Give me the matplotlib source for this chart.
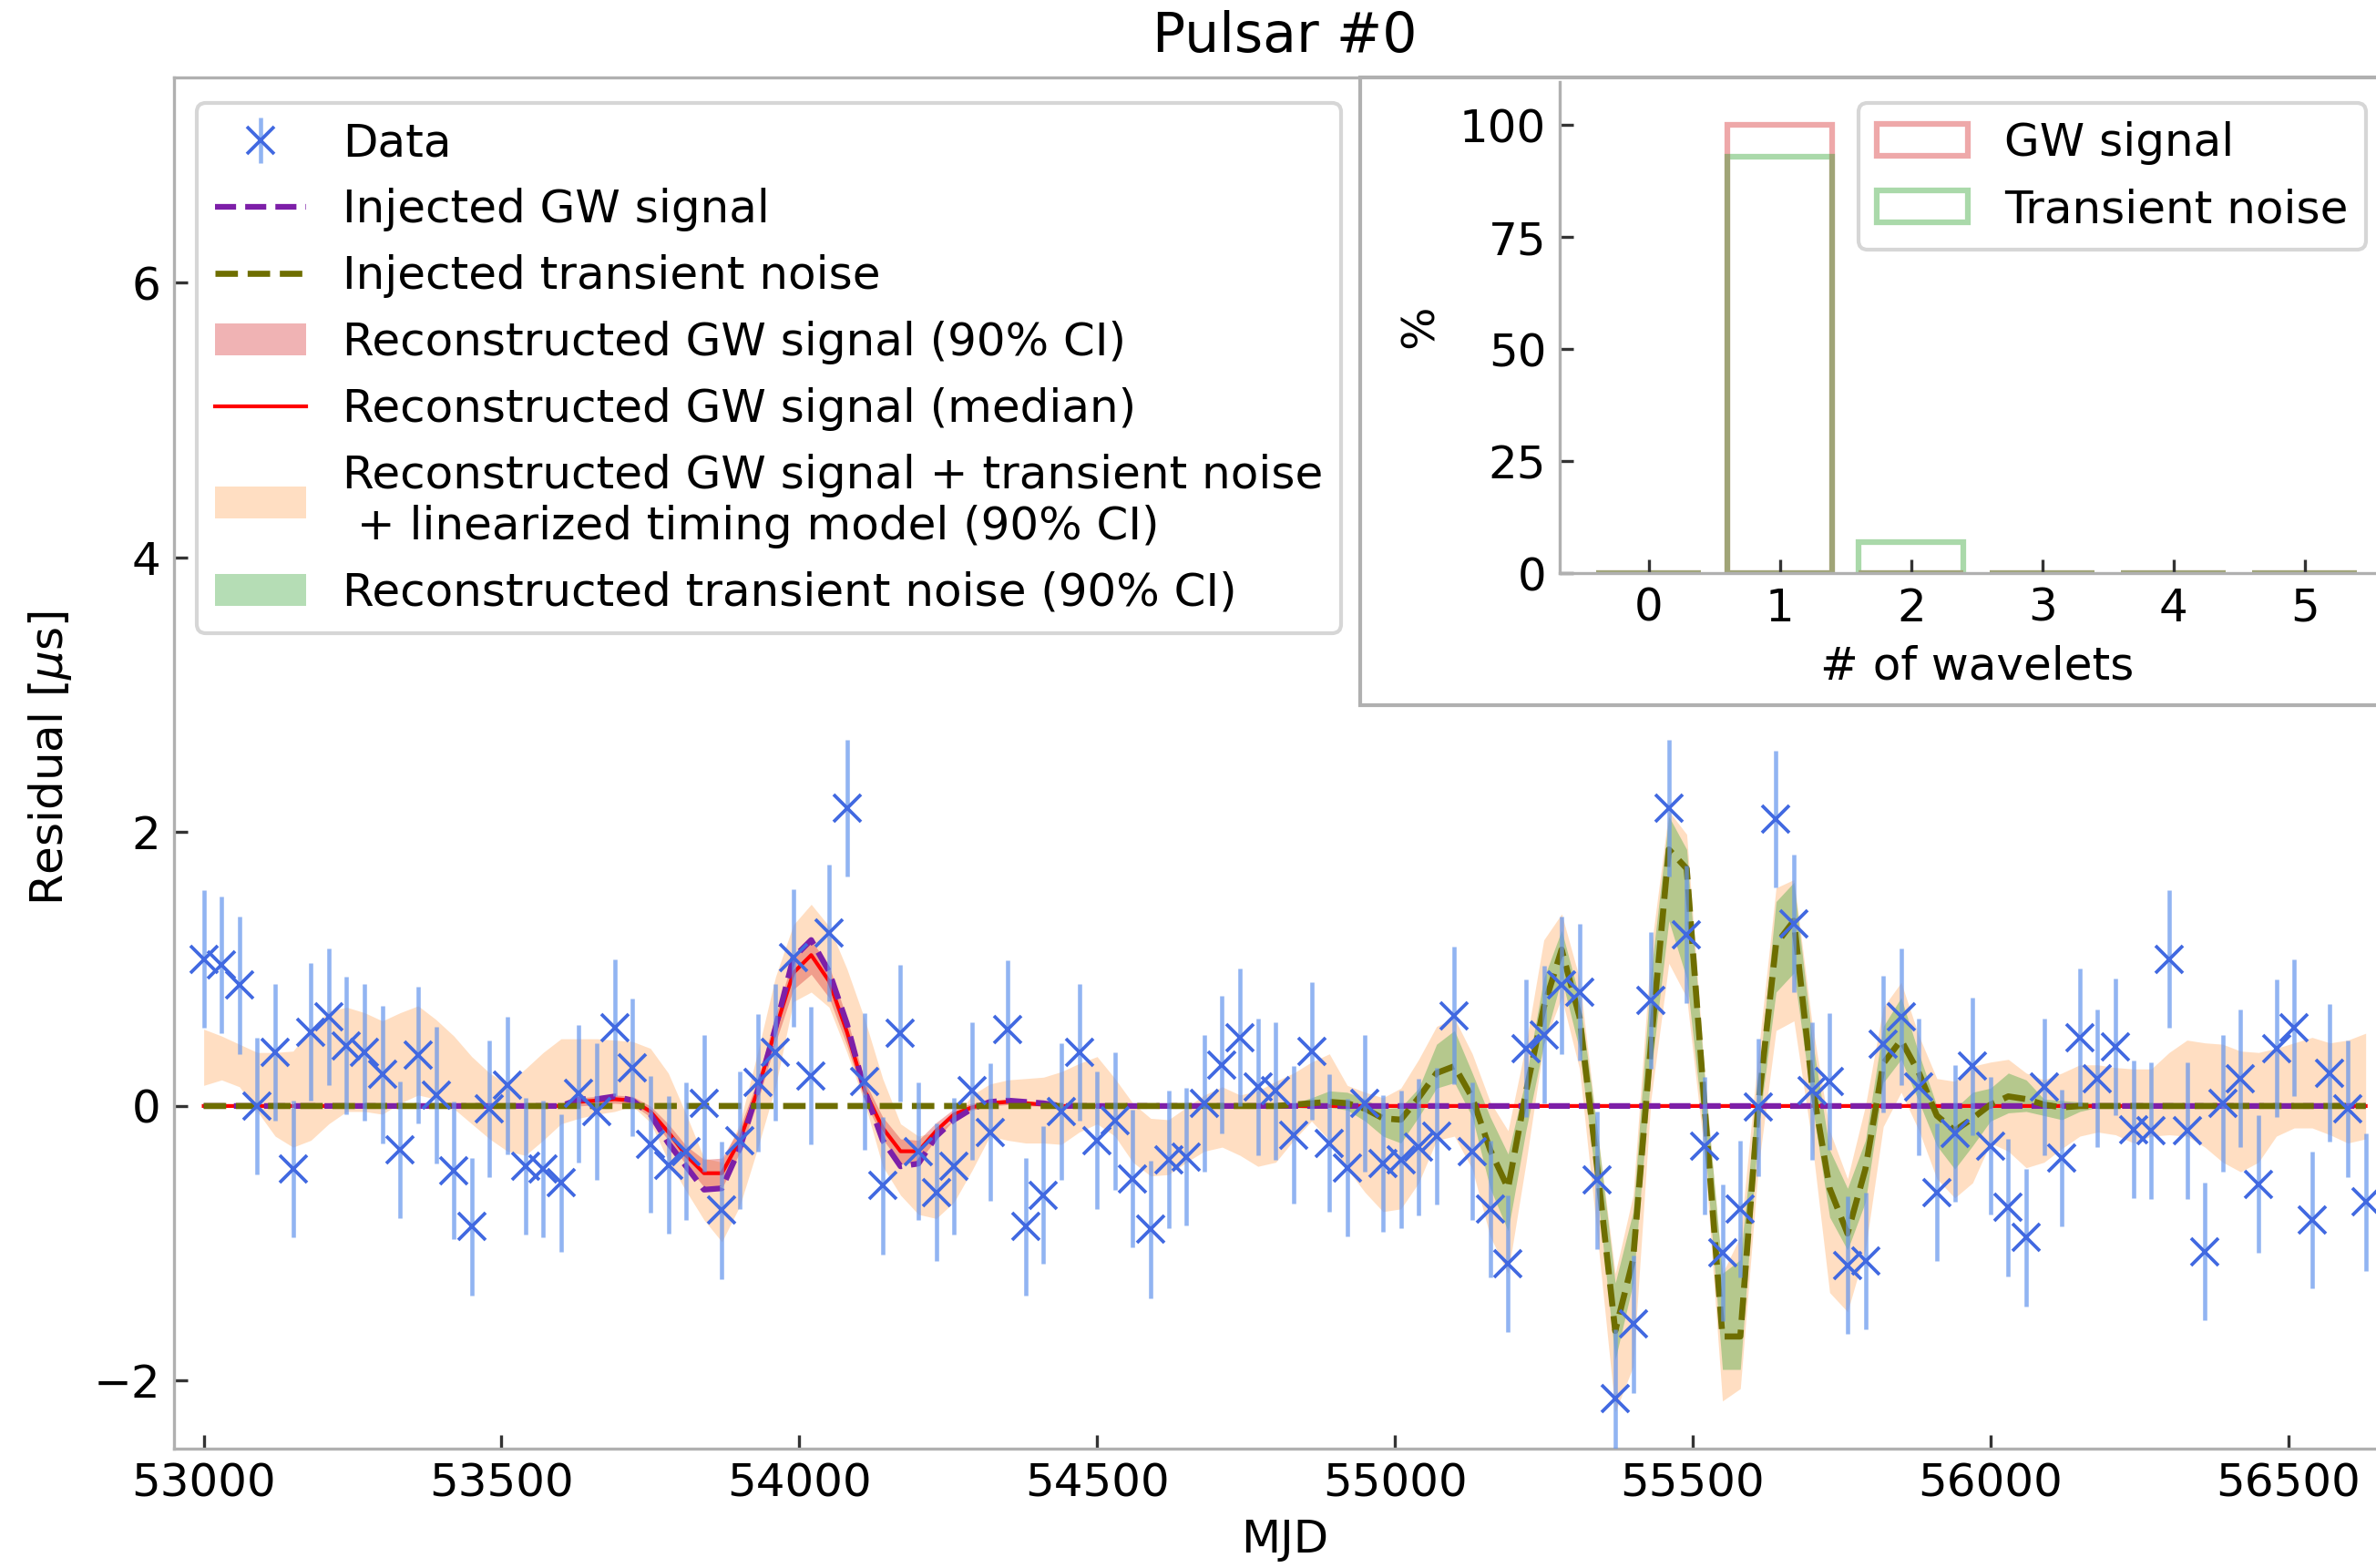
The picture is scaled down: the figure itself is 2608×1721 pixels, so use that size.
import numpy as np
import matplotlib.pyplot as plt
from matplotlib.patches import Patch, Rectangle

# observation epochs (every 30 days)
mjd = np.arange(53000, 56640, 30)

# timing residuals [us], error bar 0.5 us on every point
resid = [1.07, 1.03, 0.88, 0.00, 0.39, -0.46, 0.54, 0.65, 0.44, 0.39,
         0.23, -0.32, 0.37, 0.08, -0.47, -0.88, -0.02, 0.15, -0.44, -0.46,
         -0.56, 0.09, -0.04, 0.57, 0.28, -0.28, -0.43, -0.33, 0.02, -0.76,
         -0.25, 0.17, 0.39, 1.08, 0.22, 1.26, 2.17, 0.18, -0.58, 0.53,
         -0.33, -0.63, -0.44, 0.11, -0.19, 0.56, -0.88, -0.65, -0.04, 0.39,
         -0.25, -0.11, -0.53, -0.90, -0.39, -0.37, 0.02, 0.30, 0.50, 0.14,
         0.11, -0.21, 0.40, -0.27, -0.45, 0.02, -0.42, -0.39, -0.30, -0.22,
         0.66, -0.33, -0.75, -1.15, 0.42, 0.52, 0.88, 0.83, -0.54, -2.13,
         -1.59, 0.77, 2.17, 1.25, -0.29, -1.07, -0.75, -0.01, 2.09, 1.33,
         0.11, 0.18, -1.16, -1.13, 0.45, 0.65, 0.14, -0.63, -0.20, 0.29,
         -0.29, -0.74, -0.96, 0.14, -0.38, 0.50, 0.20, 0.43, -0.17, -0.18,
         1.07, -0.18, -1.06, 0.02, 0.20, -0.57, 0.42, 0.57, -0.83, 0.24,
         -0.02, -0.70]
resid_err = 0.5

# GW signal, nonzero from index 21 (MJD 53630)
gw_start = 21
gw_inj = [0.05, 0.05, 0.07, 0.04, -0.06, -0.27, -0.44, -0.61, -0.60, -0.31,
          0.11, 0.57, 1.08, 1.21, 0.98, 0.60, 0.11, -0.25, -0.44, -0.42,
          -0.22, -0.10, -0.02, 0.03, 0.04, 0.03, 0.02]
gw_med = [0.03, 0.04, 0.05, 0.04, -0.04, -0.19, -0.36, -0.49, -0.49, -0.25,
          0.11, 0.56, 0.97, 1.10, 0.91, 0.54, 0.11, -0.16, -0.33, -0.33,
          -0.18, -0.06, -0.01, 0.02, 0.03, 0.02, 0.01]
gw_lo = [0.00, 0.01, 0.02, 0.01, -0.08, -0.25, -0.43, -0.59, -0.60, -0.34,
         0.03, 0.46, 0.85, 0.96, 0.79, 0.44, 0.04, -0.24, -0.42, -0.41,
         -0.24, -0.10, -0.03, 0.00, 0.01, 0.00, 0.00]
gw_hi = [0.06, 0.07, 0.08, 0.07, 0.00, -0.13, -0.29, -0.39, -0.38, -0.16,
         0.19, 0.66, 1.08, 1.21, 1.02, 0.64, 0.18, -0.08, -0.24, -0.25,
         -0.12, -0.02, 0.02, 0.04, 0.05, 0.04, 0.02]

# transient noise, nonzero from index 61 (MJD 54830)
tn_start = 61
tn_inj = [0.01, 0.02, 0.03, 0.02, -0.02, -0.09, -0.10, 0.06, 0.24, 0.29,
          0.06, -0.32, -0.60, 0.10, 0.72, 1.14, 0.65, -0.46, -1.64, -1.12,
          0.45, 1.87, 1.73, 0.00, -1.68, -1.68, 0.00, 1.18, 1.35, 0.17,
          -0.60, -0.93, -0.46, 0.31, 0.48, 0.24, -0.07, -0.18, -0.09, 0.01,
          0.07, 0.05, 0.01, -0.01, 0.00, 0.00]
tn_lo = [-0.01, -0.02, -0.01, -0.03, -0.11, -0.22, -0.27, -0.08, 0.13, 0.17,
         -0.08, -0.60, -0.91, -0.18, 0.45, 0.93, 0.41, -0.63, -1.85, -1.29,
         0.24, 1.35, 0.93, -0.25, -1.92, -1.92, -0.18, 0.83, 0.97, 0.03,
         -0.81, -1.05, -0.70, 0.17, 0.34, 0.03, -0.29, -0.46, -0.29, -0.11,
         -0.05, -0.04, -0.07, -0.10, -0.04, -0.01]
tn_hi = [0.02, 0.06, 0.11, 0.10, 0.05, -0.02, -0.01, 0.13, 0.45, 0.55,
         0.24, -0.08, -0.35, 0.20, 0.93, 1.28, 0.79, -0.18, -1.29, -0.77,
         0.97, 2.11, 1.87, 0.21, -1.22, -1.12, 0.17, 1.49, 1.63, 0.51,
         -0.32, -0.60, -0.25, 0.58, 0.79, 0.38, 0.00, -0.02, 0.10, 0.13,
         0.24, 0.19, 0.05, 0.04, 0.03, 0.02]

# GW + noise + timing model, 90% CI
tot_lo = [0.15, 0.19, 0.14, -0.04, -0.22, -0.30, -0.25, -0.13, -0.04, -0.04,
          -0.06, 0.02, 0.08, 0.05, -0.02, -0.13, -0.24, -0.33, -0.36, -0.25,
          -0.13, -0.09, -0.06, -0.04, 0.00, -0.12, -0.40, -0.62, -0.83, -0.99,
          -0.73, -0.31, 0.14, 0.76, 0.83, 0.72, 0.39, 0.02, -0.44, -0.65,
          -0.79, -0.82, -0.70, -0.47, -0.22, -0.25, -0.27, -0.27, -0.28, -0.19,
          -0.13, -0.22, -0.41, -0.51, -0.50, -0.41, -0.33, -0.30, -0.36, -0.44,
          -0.41, -0.25, -0.11, -0.25, -0.46, -0.63, -0.77, -0.75, -0.56, -0.25,
          -0.22, -0.46, -0.95, -1.22, -0.42, 0.45, 0.79, 0.27, -0.95, -2.23,
          -1.90, 0.05, 1.04, 0.79, -0.35, -2.15, -2.06, -0.46, 0.55, 0.62,
          -0.25, -1.36, -1.50, -1.05, -0.15, 0.10, -0.18, -0.53, -0.67, -0.56,
          -0.27, -0.33, -0.45, -0.41, -0.31, -0.22, -0.19, -0.21, -0.27, -0.22,
          -0.21, -0.22, -0.30, -0.41, -0.48, -0.41, -0.22, -0.16, -0.16, -0.21,
          -0.27, -0.24]
tot_hi = [0.56, 0.51, 0.45, 0.39, 0.39, 0.40, 0.56, 0.69, 0.72, 0.68,
          0.62, 0.68, 0.73, 0.63, 0.51, 0.36, 0.24, 0.16, 0.27, 0.39,
          0.49, 0.49, 0.49, 0.48, 0.47, 0.42, 0.24, -0.06, -0.38, -0.41,
          -0.13, 0.39, 0.94, 1.32, 1.47, 1.31, 1.00, 0.63, 0.20, -0.13,
          -0.22, -0.19, -0.10, 0.08, 0.16, 0.19, 0.20, 0.21, 0.25, 0.31,
          0.36, 0.20, 0.02, -0.09, -0.10, -0.01, 0.08, 0.14, 0.08, 0.11,
          0.18, 0.24, 0.32, 0.38, 0.15, 0.10, 0.06, 0.13, 0.34, 0.58,
          0.64, 0.38, 0.03, -0.18, 0.45, 1.21, 1.40, 0.93, -0.18, -1.22,
          -0.65, 1.14, 2.15, 1.98, 0.24, -1.22, -0.95, 0.38, 1.59, 1.65,
          0.62, -0.18, -0.53, 0.00, 0.72, 0.90, 0.51, 0.20, 0.18, 0.29,
          0.32, 0.34, 0.24, 0.19, 0.24, 0.30, 0.30, 0.28, 0.27, 0.27,
          0.39, 0.48, 0.46, 0.45, 0.40, 0.39, 0.42, 0.46, 0.50, 0.46,
          0.48, 0.53]

# inset: number of wavelets
n_wav = [0, 1, 2, 3, 4, 5]
gw_pct = [0, 100, 0, 0, 0, 0]
tn_pct = [0, 93, 7, 0, 0, 0]


def pad(seg, start):
    out = np.zeros(len(mjd))
    out[start:start + len(seg)] = seg
    return out


purple = '#7d1fa8'
olive = '#6e6e00'
spine_c = '#b0b0b0'

fig = plt.figure(figsize=(2608 / 300, 1721 / 300), dpi=300)
ax = fig.add_axes([0.0732, 0.0759, 0.940, 0.875])

ax.fill_between(mjd, tot_lo, tot_hi, color='C1', alpha=0.25, lw=0, zorder=1)
ax.fill_between(mjd, pad(tn_lo, tn_start), pad(tn_hi, tn_start), color='C2', alpha=0.35, lw=0, zorder=2)
ax.fill_between(mjd, pad(gw_lo, gw_start), pad(gw_hi, gw_start), color='C3', alpha=0.35, lw=0, zorder=3)
l_med, = ax.plot(mjd, pad(gw_med, gw_start), '-', color='red', lw=1, zorder=4)
l_gw, = ax.plot(mjd, pad(gw_inj, gw_start), '--', color=purple, lw=1.5, zorder=5)
l_tn, = ax.plot(mjd, pad(tn_inj, tn_start), '--', color=olive, lw=1.6, zorder=6)
h_data = ax.errorbar(mjd, resid, yerr=resid_err, fmt='x', color='royalblue', ms=7, mew=0.9,
                     ecolor=(0.39, 0.58, 0.93, 0.7), elinewidth=1.1, zorder=7)

ax.set_xlim(52950, 56700)
ax.set_ylim(-2.5, 7.5)
ax.set_yticks([-2, 0, 2, 4, 6])
ax.set_xticks([53000, 53500, 54000, 54500, 55000, 55500, 56000, 56500])
ax.tick_params(direction='in', labelsize=12, color='#333333')
for s in ax.spines.values():
    s.set_color(spine_c)

p_gw = Patch(facecolor='C3', alpha=0.35)
p_tot = Patch(facecolor='C1', alpha=0.25)
p_tn = Patch(facecolor='C2', alpha=0.35)
ax.legend([h_data, l_gw, l_tn, p_gw, l_med, p_tot, p_tn],
          ['Data', 'Injected GW signal', 'Injected transient noise',
           'Reconstructed GW signal (90% CI)', 'Reconstructed GW signal (median)',
           'Reconstructed GW signal + transient noise\n + linearized timing model (90% CI)',
           'Reconstructed transient noise (90% CI)'],
          loc='upper left', bbox_to_anchor=(0.0828, 0.9343), bbox_transform=fig.transFigure,
          borderaxespad=0, fontsize=12)

fig.text(0.5407, 0.9765, 'Pulsar #0', ha='center', va='center', fontsize=14.4)
fig.text(0.0211, 0.5165, r'Residual [$\mu$s]', ha='center', va='center', rotation=90, fontsize=12)
fig.text(0.5407, 0.0180, 'MJD', ha='center', va='center', fontsize=12)

# inset box
frame = Rectangle((0.5725, 0.5503), 0.5, 0.4003, transform=fig.transFigure,
                  facecolor='white', edgecolor=spine_c, lw=1, zorder=10)
fig.patches.append(frame)

axi = fig.add_axes([0.6564, 0.6345, 0.3523, 0.3132], zorder=11)
axi.patch.set_alpha(0)
axi.bar(n_wav, gw_pct, width=0.8, fill=False, edgecolor='C3', alpha=0.4, lw=1.5, label='GW signal')
axi.bar(n_wav, tn_pct, width=0.8, fill=False, edgecolor='C2', alpha=0.4, lw=1.5, label='Transient noise')
axi.set_xlim(-0.68, 5.7)
axi.set_ylim(0, 109.6)
axi.set_yticks([0, 25, 50, 75, 100])
axi.set_xticks(n_wav)
axi.tick_params(direction='in', labelsize=12, color='#333333')
axi.spines['top'].set_visible(False)
axi.spines['right'].set_visible(False)
for s in ('left', 'bottom'):
    axi.spines[s].set_color(spine_c)
axi.legend(loc='upper left', bbox_to_anchor=(0.7822, 0.9343), bbox_transform=fig.transFigure,
           borderaxespad=0, fontsize=12)
fig.text(0.5978, 0.792, '%', ha='center', va='center', rotation=90, fontsize=12, zorder=12)
fig.text(0.832, 0.575, '# of wavelets', ha='center', va='center', fontsize=12, zorder=12)

fig.savefig('out.png', dpi=300)
